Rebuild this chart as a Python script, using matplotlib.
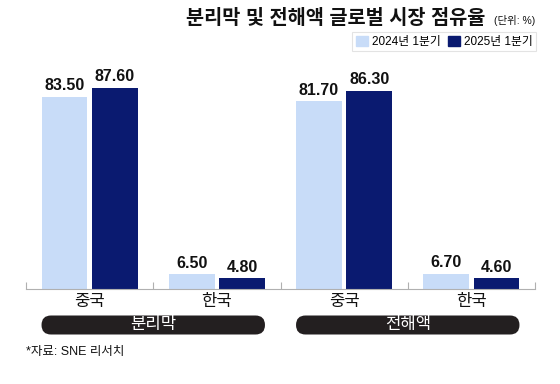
import matplotlib
matplotlib.use('Agg')
import matplotlib.pyplot as plt
from matplotlib.patches import FancyBboxPatch, Patch
import numpy as np

plt.rcParams['font.family'] = ['Liberation Sans', 'Noto Sans CJK KR', 'DejaVu Sans']

# data
groups = ['분리막', '전해액']
countries = ['중국', '한국', '중국', '한국']
series_names = ['2024년 1분기', '2025년 1분기']
vals_2024 = [83.50, 6.50, 81.70, 6.70]
vals_2025 = [87.60, 4.80, 86.30, 4.60]
colors = ['#c8dcf8', '#0a1a70']

W, H = 560, 384
fig = plt.figure(figsize=(W / 100, H / 100), dpi=100)
ax = fig.add_axes([26 / W, (H - 289) / H, (535 - 26) / W, 230 / H])

x = np.arange(len(countries))
bw = 0.36
off = 0.198
for vals, dx, c in [(vals_2024, -off, colors[0]), (vals_2025, off, colors[1])]:
    bars = ax.bar(x + dx, vals, bw, color=c, zorder=2)
    for b, v in zip(bars, vals):
        ax.text(b.get_x() + b.get_width() / 2, v + 1.5, f'{v:.2f}', ha='center', va='bottom',
                fontsize=11.5, fontweight='bold', color='#111111')

ax.set_xlim(-0.5, len(countries) - 0.5)
ax.set_ylim(0, 100)
for s in ['top', 'right', 'left']:
    ax.spines[s].set_visible(False)
ax.spines['bottom'].set_color('#b0b0b0')
ax.set_yticks([])
ax.set_xticks(np.arange(len(countries) + 1) - 0.5)
ax.set_xticklabels([])
ax.tick_params(axis='x', direction='in', length=5, color='#b0b0b0')
for xi, name in zip(x, countries):
    ax.text(xi, -5.5, name, ha='center', va='center', fontsize=12, color='#111111')

# overlay in pixel coords for pills and texts
ov = fig.add_axes([0, 0, 1, 1], zorder=-1)
ov.set_xlim(0, W)
ov.set_ylim(H, 0)
ov.axis('off')
ov.patch.set_alpha(0)

fig.canvas.draw()
to_px = ax.transData
for g, gname in enumerate(groups):
    left = to_px.transform((2 * g - off - bw / 2, 0))[0]
    right = to_px.transform((2 * g + 1 + off + bw / 2, 0))[0]
    ph = 19
    cy = 325
    pill = FancyBboxPatch((left, cy - ph / 2), right - left, ph,
                          boxstyle=f'round,pad=0,rounding_size={ph / 2}',
                          fc='#231f20', ec='none')
    ov.add_patch(pill)
    ov.text((left + right) / 2, cy, gname, ha='center', va='center', fontsize=12, color='white')

ov.text(535, 20, '(단위: %)', ha='right', va='center', fontsize=7.5, color='#111111')
ov.text(485, 18, '분리막 및 전해액 글로벌 시장 점유율', ha='right', va='center',
        fontsize=14.2, fontweight='bold', color='#111111')
ov.text(26, 352, '*자료: SNE 리서치', ha='left', va='center', fontsize=9, color='#111111')

handles = [Patch(color=c) for c in colors]
leg = fig.legend(handles, series_names, loc='upper right', bbox_to_anchor=(536 / W, (H - 32) / H),
                 ncol=2, frameon=True, fontsize=8.5, handlelength=1.0, handleheight=1.0,
                 handletextpad=0.35, columnspacing=0.6, borderpad=0.3, borderaxespad=0,
                 fancybox=False)
leg.get_frame().set_edgecolor('#dddddd')
leg.get_frame().set_linewidth(0.8)

fig.savefig('out.png', dpi=100)
